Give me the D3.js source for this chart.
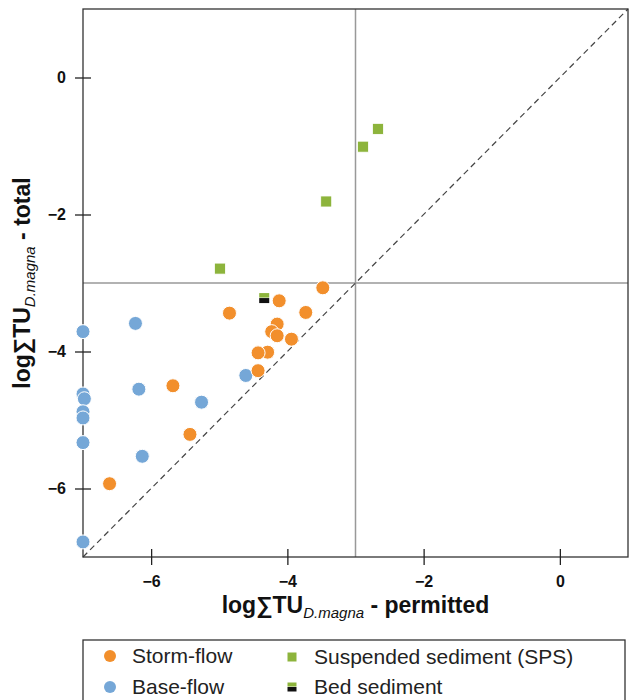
<!DOCTYPE html>
<html>
<head>
<meta charset="utf-8">
<script src="https://cdn.jsdelivr.net/npm/d3@7"></script>
<style>
  body { margin: 0; background: #fff; }
  svg { font-family: "Liberation Sans", Arial, sans-serif; }
</style>
</head>
<body>
<svg id="chart" width="629" height="700"></svg>
<script>
// values (log sum TU, D. magna)
const stormX = [-3.48, -4.12, -3.73, -4.85, -4.15, -4.23, -4.15, -3.94, -4.29, -4.43, -4.43, -5.68, -5.43, -6.61];
const stormY = [-3.07, -3.26, -3.43, -3.44, -3.60, -3.71, -3.77, -3.82, -4.01, -4.02, -4.28, -4.50, -5.21, -5.93];
const baseX = [-7.0, -6.23, -6.18, -5.26, -4.61, -7.0, -6.98, -7.0, -7.0, -7.0, -6.13, -7.0];
const baseY = [-3.71, -3.59, -4.55, -4.74, -4.35, -4.62, -4.69, -4.88, -4.97, -5.33, -5.53, -6.78];
const spsX = [-2.67, -2.89, -3.43, -4.99];
const spsY = [-0.75, -1.01, -1.81, -2.79];
const bedX = [-4.34];
const bedY = [-3.22];
const xTicks = [-6, -4, -2, 0];
const yTicks = [0, -2, -4, -6];
const threshold = -3;

const orange = '#f28f2c', blue = '#75a7d7', green = '#8db43c';

const svg = d3.select('#chart');
const pLeft = 83, pRight = 628, pTop = 9, pBottom = 557;

const x = d3.scaleLinear().domain([-7, 1]).range([pLeft, pRight]);
const y = d3.scaleLinear().domain([-7, 1]).range([pBottom, pTop]);

// thresholds
svg.append('line')
  .attr('x1', x(threshold)).attr('x2', x(threshold))
  .attr('y1', pTop).attr('y2', pBottom)
  .style('stroke', '#999').style('stroke-width', 1.5);
svg.append('line')
  .attr('x1', pLeft).attr('x2', pRight)
  .attr('y1', y(threshold)).attr('y2', y(threshold))
  .style('stroke', '#999').style('stroke-width', 1.5);

// 1:1 line
svg.append('line')
  .attr('x1', x(-7)).attr('y1', y(-7))
  .attr('x2', x(1)).attr('y2', y(1))
  .style('stroke', '#444').style('stroke-width', 1.2)
  .style('stroke-dasharray', '6,4');

// frame
svg.append('rect')
  .attr('x', pLeft).attr('y', pTop)
  .attr('width', pRight - pLeft).attr('height', pBottom - pTop)
  .style('fill', 'none').style('stroke', '#333').style('stroke-width', 1.3);

// axes: ticks cross the frame
const xAxis = svg.append('g').attr('transform', `translate(0,${pBottom})`)
  .call(d3.axisBottom(x).tickValues(xTicks).tickSizeInner(8).tickSizeOuter(0).tickPadding(11));
const yAxis = svg.append('g').attr('transform', `translate(${pLeft},0)`)
  .call(d3.axisLeft(y).tickValues(yTicks).tickSizeInner(8).tickSizeOuter(0).tickPadding(9));
[xAxis, yAxis].forEach(g => {
  g.select('.domain').remove();
  g.selectAll('.tick line').style('stroke', '#222').style('stroke-width', 1.3);
  g.selectAll('.tick text')
    .style('font-family', '"Liberation Sans", Arial, sans-serif')
    .style('font-size', '16px').style('font-weight', 'bold').style('fill', '#111');
});
xAxis.selectAll('.tick line').attr('y1', -8);
yAxis.selectAll('.tick line').attr('x1', 8);

// points
svg.append('g').selectAll('circle')
  .data(d3.zip(baseX, baseY))
  .enter().append('circle')
  .attr('cx', d => x(d[0])).attr('cy', d => y(d[1])).attr('r', 7)
  .style('fill', blue).style('stroke', '#fff').style('stroke-width', 1);
svg.append('g').selectAll('circle')
  .data(d3.zip(stormX, stormY))
  .enter().append('circle')
  .attr('cx', d => x(d[0])).attr('cy', d => y(d[1])).attr('r', 7)
  .style('fill', orange).style('stroke', '#fff').style('stroke-width', 1);

const sq = 11;
svg.append('g').selectAll('rect')
  .data(d3.zip(spsX, spsY))
  .enter().append('rect')
  .attr('x', d => x(d[0]) - sq / 2).attr('y', d => y(d[1]) - sq / 2)
  .attr('width', sq).attr('height', sq)
  .style('fill', green).style('stroke', '#fff').style('stroke-width', 0.8);

function bedMarker(g, cx, cy, s) {
  g.append('rect').attr('x', cx - s / 2).attr('y', cy - s / 2)
    .attr('width', s).attr('height', s * 0.45).style('fill', green);
  g.append('rect').attr('x', cx - s / 2).attr('y', cy - s / 2 + s * 0.5)
    .attr('width', s).attr('height', s * 0.5).style('fill', '#111');
}
const bedG = svg.append('g');
d3.zip(bedX, bedY).forEach(d => bedMarker(bedG, x(d[0]), y(d[1]), 10));

// axis titles
const xt = svg.append('text')
  .attr('x', (pLeft + pRight) / 2).attr('y', 613)
  .attr('text-anchor', 'middle')
  .style('font-size', '23px').style('font-weight', 'bold').style('fill', '#111');
xt.append('tspan').text('log∑TU');
xt.append('tspan').attr('dy', 5).style('font-size', '15px').style('font-style', 'italic').style('font-weight', 'normal').text('D.magna');
xt.append('tspan').attr('dy', -5).text(' - permitted');

const yt = svg.append('text')
  .attr('transform', `translate(30,${(pTop + pBottom) / 2}) rotate(-90)`)
  .attr('text-anchor', 'middle')
  .style('font-size', '23px').style('font-weight', 'bold').style('fill', '#111');
yt.append('tspan').text('log∑TU');
yt.append('tspan').attr('dy', 5).style('font-size', '15px').style('font-style', 'italic').style('font-weight', 'normal').text('D.magna');
yt.append('tspan').attr('dy', -5).text(' - total');

// legend
svg.append('rect')
  .attr('x', pLeft).attr('y', 640).attr('width', pRight - pLeft - 3).attr('height', 70)
  .style('fill', 'none').style('stroke', '#333').style('stroke-width', 1.3);
const leg = svg.append('g').style('font-size', '21px').style('fill', '#222');
const legendItems = [
  { label: 'Storm-flow', kind: 'circle', color: orange, lx: 110, ly: 656 },
  { label: 'Base-flow', kind: 'circle', color: blue, lx: 110, ly: 687 },
  { label: 'Suspended sediment (SPS)', kind: 'square', color: green, lx: 292, ly: 657 },
  { label: 'Bed sediment', kind: 'bed', color: '#111', lx: 292, ly: 687 }
];
legendItems.forEach(it => {
  if (it.kind === 'circle') {
    leg.append('circle').attr('cx', it.lx).attr('cy', it.ly).attr('r', 6).style('fill', it.color);
  } else if (it.kind === 'square') {
    leg.append('rect').attr('x', it.lx - 4.5).attr('y', it.ly - 4.5).attr('width', 9).attr('height', 9).style('fill', it.color);
  } else {
    bedMarker(leg, it.lx, it.ly, 9);
  }
  leg.append('text').attr('x', it.lx + 22).attr('y', it.ly + 7).text(it.label);
});
</script>
</body>
</html>
